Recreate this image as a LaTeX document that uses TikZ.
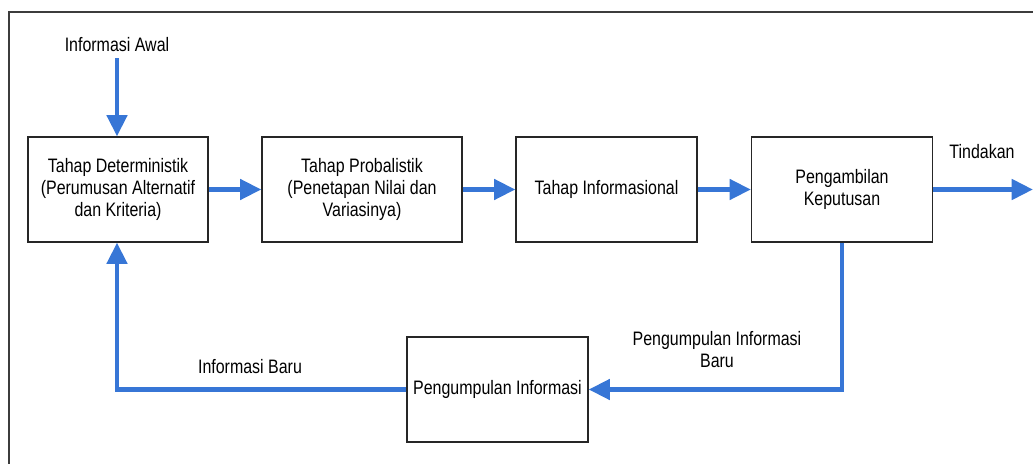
\documentclass[tikz,border=0pt]{standalone}
\usepackage{fontspec}
\setmainfont{Liberation Sans}[FakeStretch=0.82]
\usetikzlibrary{arrows.meta}
\definecolor{arrowblue}{RGB}{55,118,214}
\definecolor{framegray}{RGB}{60,60,60}
\tikzset{
  stagebox/.style={draw=black!85, line width=0.9pt, fill=white, align=center,
    minimum height=78.75pt, inner sep=2pt, font=\fontsize{14.6pt}{16.5pt}\selectfont},
  flow/.style={draw=arrowblue, line width=3.6pt,
    -{Triangle[width=15pt,length=16pt]}, shorten >=0pt},
  lbl/.style={align=center, inner sep=0pt, font=\fontsize{14.6pt}{16.5pt}\selectfont}
}
\begin{document}
\begin{tikzpicture}[x=0.75pt,y=-0.75pt]
\useasboundingbox (0,0) rectangle (1033,464);
\draw[framegray, line width=1.1pt] (9,464) -- (9,12) -- (1033,12);

\node[stagebox, minimum width=135pt] (det) at (118,189.5) {Tahap Deterministik\\(Perumusan Alternatif\\dan Kriteria)};
\node[stagebox, minimum width=150pt] (prob) at (362,189.5) {Tahap Probalistik\\(Penetapan Nilai dan\\Variasinya)};
\node[stagebox, minimum width=135.75pt] (inf) at (606.5,189.5) {Tahap Informasional};
\node[stagebox, minimum width=135.75pt] (amb) at (842,189.5) {Pengambilan\\Keputusan};
\node[stagebox, minimum width=135.75pt] (kum) at (497.5,389.5) {Pengumpulan Informasi};

\node[lbl] (awal) at (117,45) {Informasi Awal};
\node[lbl] (tind) at (982,152) {Tindakan};
\node[lbl] (pib) at (717,350) {Pengumpulan Informasi\\Baru};
\node[lbl] (ib) at (250,367) {Informasi Baru};

\coordinate (awalstart) at (117,58);
\coordinate (out) at (1033,189.5);
\coordinate (c1) at (842,389.5);
\coordinate (c2) at (117,389.5);

\draw[flow] (awalstart) -- (det.north -| awalstart);
\draw[flow] (det) -- (prob);
\draw[flow] (prob) -- (inf);
\draw[flow] (inf) -- (amb);
\draw[flow] (amb) -- (out);
\draw[flow] (amb.south) -- (c1) -- (kum.east);
\draw[flow] (kum.west) -- (c2) -- (det.south -| c2);
\end{tikzpicture}
\end{document}
